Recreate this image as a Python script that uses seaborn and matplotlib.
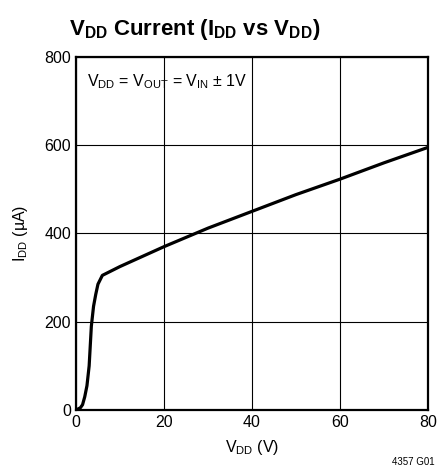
import matplotlib
matplotlib.use("Agg")
import matplotlib.pyplot as plt
import seaborn as sns
import pandas as pd

vdd = [0, 1, 1.5, 2, 2.5, 3, 3.5, 4, 4.5, 5, 6, 10, 20, 30, 40, 50, 60, 70, 80]
idd = [0, 5, 12, 30, 55, 100, 190, 235, 262, 285, 305, 325, 370, 412, 450, 488, 523, 560, 595]
xticks = [0, 20, 40, 60, 80]
yticks = [0, 200, 400, 600, 800]

sns.set_theme(style="white")
plt.rcParams['font.family'] = ['Liberation Sans', 'DejaVu Sans']
plt.rcParams['mathtext.default'] = 'regular'

df = pd.DataFrame({"VDD": vdd, "IDD": idd})

fig = plt.figure(figsize=(4.39, 4.74), dpi=100)
ax = fig.add_axes([0.173, 0.135, 0.802, 0.745])
sns.lineplot(data=df, x="VDD", y="IDD", ax=ax, color="black", linewidth=2.3)

ax.set_xlim(0, 80)
ax.set_ylim(0, 800)
ax.set_xticks(xticks)
ax.set_yticks(yticks)
ax.grid(True, color="black", linewidth=0.8)
for s in ax.spines.values():
    s.set_visible(True)
    s.set_color("black")
    s.set_linewidth(1.6)
ax.tick_params(axis="both", labelsize=11.5, colors="black", direction="in", length=3, width=0.8)
ax.set_xlabel("V$_{DD}$ (V)", fontsize=11.5, color="black", labelpad=6)
ax.set_ylabel("I$_{DD}$ (µA)", fontsize=11.5, color="black", labelpad=10)

ax.text(0.03, 0.955, "V$_{DD}$ = V$_{OUT}$ = V$_{IN}$ ± 1V", transform=ax.transAxes,
        fontsize=11.5, ha="left", va="top", color="black")
fig.text(0.444, 0.937, "V$_{DD}$ Current (I$_{DD}$ vs V$_{DD}$)", fontsize=16,
         fontweight="bold", ha="center", va="center", color="black")
fig.text(0.99, 0.015, "4357 G01", fontsize=7, ha="right", va="bottom", color="black")

fig.savefig("out.png", dpi=100)
